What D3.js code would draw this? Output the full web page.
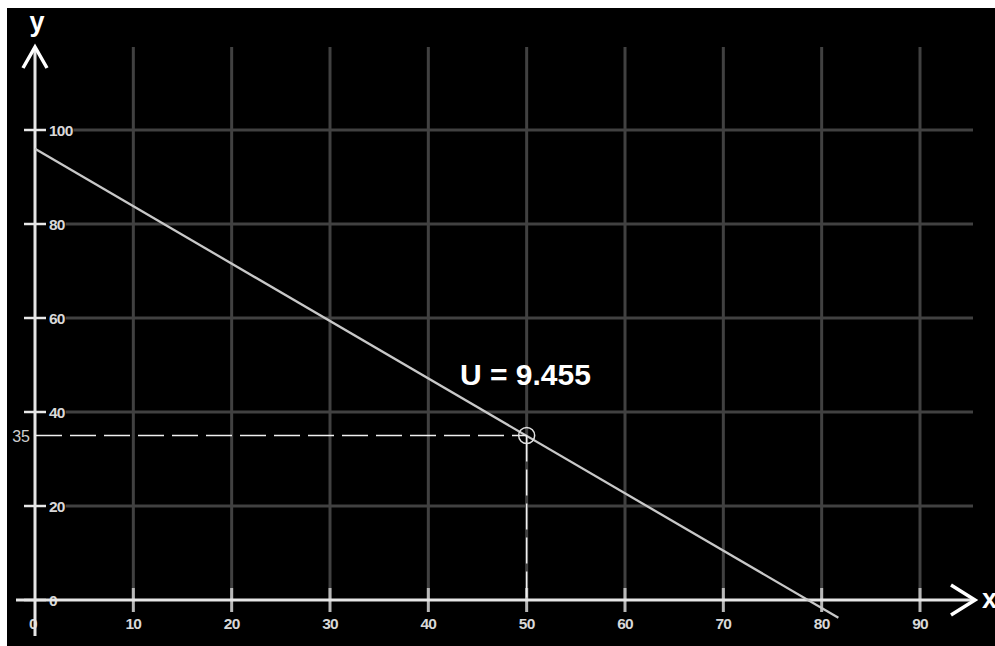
<!DOCTYPE html>
<html>
<head>
<meta charset="utf-8">
<script src="https://cdn.jsdelivr.net/npm/d3@7"></script>
<style>
  html, body { margin: 0; padding: 0; background: #fff; }
  svg { display: block; }
</style>
</head>
<body>
<svg id="chart" width="995" height="646"></svg>
<script>
// ---- data ----
const xTicks = [0, 10, 20, 30, 40, 50, 60, 70, 80, 90];
const yTicks = [0, 20, 40, 60, 80, 100];
const lineX = [0, 81.7];
const lineY = [96, -3.8];
const pointX = [50];
const pointY = [35];
const annotation = "U = 9.455";
const xName = "x";
const yName = "y";

// ---- layout ----
const svg = d3.select("#chart");
const x = d3.scaleLinear().domain([0, 90]).range([35, 920]);
const y = d3.scaleLinear().domain([0, 100]).range([600, 130]);
const font = "'Liberation Sans', Arial, sans-serif";

svg.append("rect").attr("x", 7).attr("y", 8).attr("width", 988).attr("height", 638).attr("fill", "#000");

// y tick labels (measured so horizontal grid lines start after them)
const yLab = svg.append("g");
const yLabEnds = {};
yTicks.forEach(v => {
  const t = yLab.append("text")
    .attr("x", 49).attr("y", y(v) + 5.5)
    .attr("font-family", font).attr("font-size", 15.5).attr("font-weight", "bold")
    .attr("letter-spacing", -0.8)
    .attr("fill", "#d8d8d8").text(v);
  yLabEnds[v] = 49 + t.node().getComputedTextLength();
});

// grid
const grid = svg.insert("g", "g");
xTicks.filter(v => v > 0).forEach(v => {
  grid.append("line").attr("x1", x(v)).attr("x2", x(v)).attr("y1", 47).attr("y2", 600)
    .attr("stroke", "#414141").attr("stroke-width", 3);
});
yTicks.filter(v => v > 0).forEach(v => {
  grid.append("line").attr("x1", yLabEnds[v] + 1).attr("x2", 973).attr("y1", y(v)).attr("y2", y(v))
    .attr("stroke", "#414141").attr("stroke-width", 3);
});

// x ticks
xTicks.filter(v => v > 0).forEach(v => {
  svg.append("line").attr("x1", x(v)).attr("x2", x(v)).attr("y1", 588).attr("y2", 612)
    .attr("stroke", "#b8b8b8").attr("stroke-width", 3);
});
xTicks.forEach(v => {
  svg.append("text").attr("x", x(v) - (v === 0 ? 2 : 0)).attr("y", 629)
    .attr("text-anchor", "middle")
    .attr("font-family", font).attr("font-size", 15.5).attr("font-weight", "bold")
    .attr("letter-spacing", -0.8)
    .attr("fill", "#d8d8d8").text(v);
});

// y ticks
yTicks.forEach(v => {
  svg.append("line").attr("x1", 24).attr("x2", 46).attr("y1", y(v)).attr("y2", y(v))
    .attr("stroke", "#e8e8e8").attr("stroke-width", 2.5);
});

// axes
svg.append("line").attr("x1", 16).attr("x2", 973).attr("y1", y(0)).attr("y2", y(0))
  .attr("stroke", "#e6e6e6").attr("stroke-width", 3);
svg.append("line").attr("x1", x(0)).attr("x2", x(0)).attr("y1", 49).attr("y2", 636)
  .attr("stroke", "#e6e6e6").attr("stroke-width", 3);

// arrows
svg.append("path").attr("d", "M23,68 L35,47 L47,68").attr("fill", "none")
  .attr("stroke", "#fff").attr("stroke-width", 3.5);
svg.append("path").attr("d", "M951,585 L975,600 L951,615").attr("fill", "none")
  .attr("stroke", "#fff").attr("stroke-width", 3.5);
svg.append("text").attr("x", 37).attr("y", 31).attr("text-anchor", "middle")
  .attr("font-family", font).attr("font-size", 27).attr("font-weight", "bold")
  .attr("fill", "#fff").text(yName);
svg.append("text").attr("x", 982).attr("y", 608)
  .attr("font-family", font).attr("font-size", 27).attr("font-weight", "bold")
  .attr("fill", "#fff").text(xName);

// main line
const pts = lineX.map((d, i) => [d, lineY[i]]);
svg.append("path").attr("d", d3.line().x(d => x(d[0])).y(d => y(d[1]))(pts))
  .attr("fill", "none").attr("stroke", "#c8c8c8").attr("stroke-width", 2.3);

// dashed guides + point
pointX.forEach((px, i) => {
  const py = pointY[i];
  svg.append("line").attr("x1", x(0) + 1).attr("x2", x(px)).attr("y1", y(py)).attr("y2", y(py))
    .attr("stroke", "#f0f0f0").attr("stroke-width", 1.5).attr("stroke-dasharray", "26 8");
  svg.append("line").attr("x1", x(px)).attr("x2", x(px)).attr("y1", y(py)).attr("y2", y(0))
    .attr("stroke", "#f0f0f0").attr("stroke-width", 1.5).attr("stroke-dasharray", "26 8");
  svg.append("circle").attr("cx", x(px)).attr("cy", y(py)).attr("r", 8)
    .attr("fill", "none").attr("stroke", "#e0e0e0").attr("stroke-width", 1.5);
  svg.append("text").attr("x", 30).attr("y", y(py) + 6).attr("text-anchor", "end")
    .attr("font-family", font).attr("font-size", 16).attr("fill", "#cfcfcf").text(py);
});

svg.append("text").attr("x", 460).attr("y", 385)
  .attr("font-family", font).attr("font-size", 30).attr("font-weight", "bold")
  .attr("fill", "#fff").text(annotation);
</script>
</body>
</html>
